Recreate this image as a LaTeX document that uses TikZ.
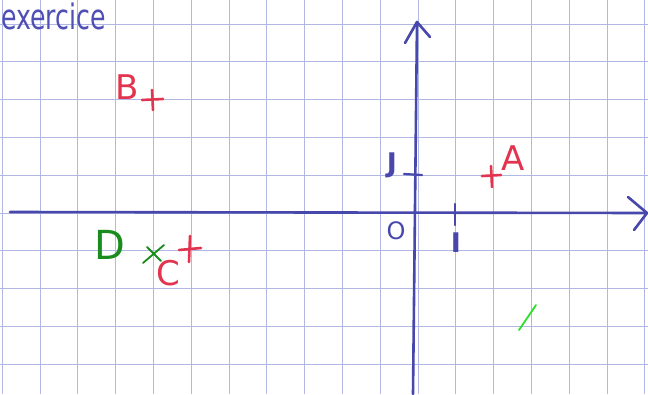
\documentclass[tikz,border=0pt]{standalone}
\usepackage{fontspec}
\setsansfont{DejaVu Sans}
\definecolor{gridc}{RGB}{178,184,228}
\definecolor{axisc}{RGB}{72,72,172}
\definecolor{redc}{RGB}{226,52,78}
\definecolor{dgreen}{RGB}{24,140,28}
\definecolor{lgreen}{RGB}{40,225,40}
\definecolor{titlec}{RGB}{80,80,180}
\tikzset{
  gridline/.style={gridc, line width=0.9pt},
  axisline/.style={axisc, line width=2.6pt, line cap=round, line join=round},
  tickline/.style={axisc, line width=2.2pt, line cap=round},
  redmark/.style={redc, line width=2.6pt, line cap=round},
  greenmark/.style={dgreen, line width=1.8pt, line cap=round},
  bluelbl/.style={text=axisc, font=\sffamily\bfseries\fontsize{27}{27}\selectfont, inner sep=0pt},
  redlbl/.style={text=redc, font=\sffamily\fontsize{34}{34}\selectfont, inner sep=0pt},
}
\begin{document}
\begin{tikzpicture}[x=1pt,y=-1pt]
\useasboundingbox (0,0) rectangle (648,394);
\clip (0,0) rectangle (648,394);
\fill[white] (0,0) rectangle (648,394);
% grid
\foreach \i in {0,...,17} \draw[gridline] ({2.2+37.8*\i},0) -- ({2.2+37.8*\i},394);
\foreach \j in {0,...,9} \draw[gridline] (0,{24+37.8*\j}) -- (648,{24+37.8*\j});
% title
\node[anchor=west, text=titlec, inner sep=0pt, font=\sffamily\fontsize{35}{35}\selectfont, xscale=0.72] (title) at (1,16) {exercice};
% axes
\coordinate (xs) at (10,212);
\coordinate (xe) at (647,213);
\coordinate (xa1) at (628,197);
\coordinate (xa2) at (634,230);
\draw[axisline] (xs) -- (xe);
\draw[axisline] (xa1) -- (xe) -- (xa2);
\coordinate (ys) at (413,394);
\coordinate (ye) at (417,22);
\coordinate (ya1) at (405,43);
\coordinate (ya2) at (430,37);
\draw[axisline] (ys) -- (ye);
\draw[axisline] (ya1) -- (ye) -- (ya2);
% ticks
\coordinate (j1) at (404,174); \coordinate (j2) at (422,175);
\draw[tickline] (j1) -- (j2);
\coordinate (i1) at (455,204); \coordinate (i2) at (455,225);
\draw[tickline] (i1) -- (i2);
% blue labels
\node[bluelbl] (J) at (392,165) {J};
\node[bluelbl] (I) at (456,243) {I};
\node[text=axisc, font=\sffamily\fontsize{24}{24}\selectfont, inner sep=0pt] (O) at (396,231) {O};
% red points
\draw[redmark] (482,176) -- (501,175);
\draw[redmark] (491,166) -- (492,187);
\node[redlbl] (A) at (513,158) {A};
\draw[redmark] (142,100) -- (163,99);
\draw[redmark] (152,90) -- (153,110);
\node[redlbl] (B) at (127,87) {B};
\draw[redmark] (190,236) -- (189,262);
\draw[redmark] (179,250) -- (201,248);
\node[redlbl] (C) at (168,273) {C};
% green point D
\draw[greenmark] (143,263) -- (164,245);
\draw[greenmark] (147,247) -- (161,261);
\node[text=dgreen, font=\sffamily\fontsize{40}{40}\selectfont, inner sep=0pt] (D) at (110,245) {D};
% green slash
\draw[lgreen, line width=1.8pt, line cap=round] (519,330) -- (536,305);
\end{tikzpicture}
\end{document}
